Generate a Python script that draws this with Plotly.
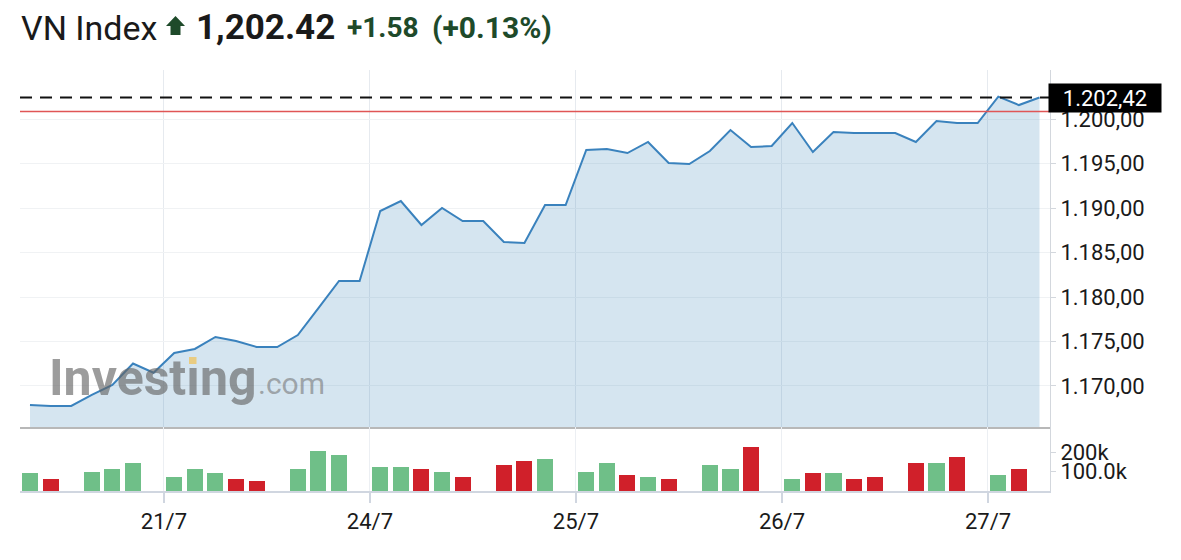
import plotly.graph_objects as go

# the page body has an 8px margin, so the figure is sized to fit inside it
OFF = 8
W, H = 1181 - 2 * OFF, 560 - 2 * OFF

# ---------------- data ----------------
price = [1167.87, 1167.75, 1167.75, 1168.99, 1170.11, 1172.53, 1171.49, 1173.71, 1174.16, 1175.51,
         1175.06, 1174.38, 1174.38, 1175.73, 1178.76, 1181.80, 1181.80, 1189.66, 1190.79, 1188.09,
         1190.00, 1188.54, 1188.54, 1186.18, 1186.07, 1190.34, 1190.34, 1196.52, 1196.63, 1196.18,
         1197.42, 1195.06, 1194.94, 1196.40, 1198.76, 1196.85, 1196.97, 1199.55, 1196.29, 1198.54,
         1198.43, 1198.43, 1198.43, 1197.42, 1199.78, 1199.55, 1199.55, 1202.51, 1201.57, 1202.42]

volume_k = [91, 60, 0, 100, 112, 143, 0, 71, 112, 91,
            60, 50, 0, 112, 205, 184, 0, 122, 122, 112,
            100, 71, 0, 133, 153, 164, 0, 100, 143, 83,
            71, 60, 0, 133, 112, 226, 0, 60, 91, 91,
            60, 71, 0, 143, 143, 174, 0, 81, 112, 0]

volume_dir = ["g", "r", "", "g", "g", "g", "", "g", "g", "g",
              "r", "r", "", "g", "g", "g", "", "g", "g", "r",
              "g", "r", "", "r", "r", "g", "", "g", "g", "r",
              "g", "r", "", "g", "g", "r", "", "g", "r", "g",
              "r", "r", "", "r", "g", "r", "", "g", "r", ""]

day_pos = [6.5, 16.5, 26.5, 36.5, 46.5]
day_labels = ["21/7", "24/7", "25/7", "26/7", "27/7"]

price_ticks = [1170, 1175, 1180, 1185, 1190, 1195, 1200]
price_ticktext = ["1.170,00", "1.175,00", "1.180,00", "1.185,00", "1.190,00", "1.195,00", "1.200,00"]

vol_ticks = [100000, 200000]
vol_ticktext = ["100.0k", "200k"]

last_price = 1202.42
prev_close = 1200.84
last_label = "1.202,42"

title_name = "VN Index"
title_value = "1,202.42"
title_change = "+1.58"
title_pct = "(+0.13%)"

# ---------------- helpers (screen pixels -> paper) ----------------
def px(x):
    return (x - OFF) / W

def py(y):
    return 1 - (y - OFF) / H

idx = list(range(len(price)))
vol = [v * 1000 for v in volume_k]
GREEN = "#6fbf88"
RED = "#d0202a"
bar_colors = [GREEN if d == "g" else (RED if d == "r" else "rgba(0,0,0,0)") for d in volume_dir]

FONT = "Roboto"
TXT = "#1a1a1a"
DARKGREEN = "#1e4a2a"

fig = go.Figure()

fig.add_trace(go.Scatter(
    x=idx, y=price, mode="lines",
    line=dict(color="#3a82bd", width=2),
    fill="tozeroy", fillcolor="rgba(65,135,185,0.22)",
    xaxis="x", yaxis="y", hoverinfo="skip", showlegend=False,
))

fig.add_trace(go.Bar(
    x=idx, y=vol, marker=dict(color=bar_colors, line=dict(width=0)),
    width=0.78, xaxis="x2", yaxis="y2", hoverinfo="skip", showlegend=False,
))

x_range = [-0.485, 49.51]
x_dom = [px(20), px(1050)]

fig.update_layout(
    width=W, height=H, autosize=False,
    margin=dict(l=0, r=0, t=0, b=0),
    paper_bgcolor="white", plot_bgcolor="white",
    font=dict(family=FONT, size=22, color=TXT),
    bargap=0,
    xaxis=dict(
        domain=x_dom, range=x_range, anchor="y",
        tickvals=day_pos, showticklabels=False, ticks="",
        showgrid=True, gridcolor="#e6eaef", gridwidth=1,
        zeroline=False, showline=True, linecolor="#b8b8b8", linewidth=2,
        fixedrange=True,
    ),
    yaxis=dict(
        domain=[py(427), py(70)], range=[1165.39, 1205.51], anchor="x",
        side="right", tickvals=price_ticks, ticktext=price_ticktext,
        ticks="outside", ticklen=5, tickcolor="#d3d7dd", tickwidth=1,
        showgrid=True, gridcolor="#f0f2f4", gridwidth=1,
        zeroline=False, showline=True, linecolor="#d3d7dd", linewidth=1,
        tickfont=dict(family=FONT, size=22, color=TXT),
    ),
    xaxis2=dict(
        domain=x_dom, range=x_range, anchor="y2",
        tickvals=day_pos, ticktext=day_labels,
        ticks="outside", ticklen=10, tickcolor="#d0d6e0", tickwidth=2,
        showgrid=True, gridcolor="#eceff3", gridwidth=1,
        zeroline=False, showline=True, linecolor="#d0d6e0", linewidth=2,
        tickfont=dict(family=FONT, size=22, color=TXT),
    ),
    yaxis2=dict(
        domain=[py(491), py(427)], range=[0, 330000], anchor="x2",
        side="right", tickvals=vol_ticks, ticktext=vol_ticktext,
        ticks="outside", ticklen=5, tickcolor="#d3d7dd", tickwidth=1,
        showgrid=False, zeroline=False, showline=True, linecolor="#d3d7dd", linewidth=1,
        tickfont=dict(family=FONT, size=22, color=TXT),
    ),
)

shapes = [
    dict(type="line", xref="paper", yref="y", x0=px(20), x1=px(1049), y0=prev_close, y1=prev_close,
         line=dict(color="#e05656", width=1.5), layer="above"),
    dict(type="line", xref="paper", yref="y", x0=px(20), x1=px(1049), y0=last_price, y1=last_price,
         line=dict(color="#111111", width=2, dash="12px,8px"), layer="above"),
    # green up arrow in the title
    dict(type="path", xref="paper", yref="paper", layer="above",
         path=(f"M {px(175.5)},{py(16)} L {px(185)},{py(26)} L {px(180.5)},{py(26)} "
               f"L {px(180.5)},{py(35)} L {px(170.5)},{py(35)} L {px(170.5)},{py(26)} "
               f"L {px(166)},{py(26)} Z"),
         fillcolor=DARKGREEN, line=dict(width=0)),
    # yellow dot of the watermark's i
    dict(type="rect", xref="paper", yref="paper", layer="above",
         x0=px(189), x1=px(196.5), y0=py(364), y1=py(357),
         fillcolor="rgba(236,200,110,0.85)", line=dict(width=0)),
]
fig.update_layout(shapes=shapes)

annotations = [
    dict(text=title_name, xref="paper", yref="paper", x=px(19), y=py(28), xanchor="left", yanchor="middle",
         showarrow=False, font=dict(family=FONT, size=34, color=TXT)),
    dict(text=f"<b>{title_value}</b>", xref="paper", yref="paper", x=px(194), y=py(28), xanchor="left",
         yanchor="middle", showarrow=False, font=dict(family=FONT, size=35, color=TXT)),
    dict(text=f"<b>{title_change}</b>", xref="paper", yref="paper", x=px(345), y=py(28), xanchor="left",
         yanchor="middle", showarrow=False, font=dict(family=FONT, size=28, color=DARKGREEN)),
    dict(text=f"<b>{title_pct}</b>", xref="paper", yref="paper", x=px(430), y=py(28), xanchor="left",
         yanchor="middle", showarrow=False, font=dict(family=FONT, size=30, color=DARKGREEN)),
    # last price box
    dict(text=last_label, xref="paper", yref="y", x=px(1048), y=last_price, xanchor="left", yanchor="middle",
         showarrow=False, bgcolor="#000000", width=106, height=22, borderpad=3,
         font=dict(family=FONT, size=22, color="#ffffff")),
    # watermark
    dict(text="<b>Investıng</b>", xref="paper", yref="paper", x=px(47), y=py(378), xanchor="left",
         yanchor="middle", showarrow=False, font=dict(family=FONT, size=50, color="rgba(100,100,100,0.64)")),
    dict(text=".com", xref="paper", yref="paper", x=px(256), y=py(383), xanchor="left",
         yanchor="middle", showarrow=False, font=dict(family=FONT, size=30, color="rgba(115,115,115,0.58)")),
]
fig.update_layout(annotations=annotations)

fig.write_html("out.html")
